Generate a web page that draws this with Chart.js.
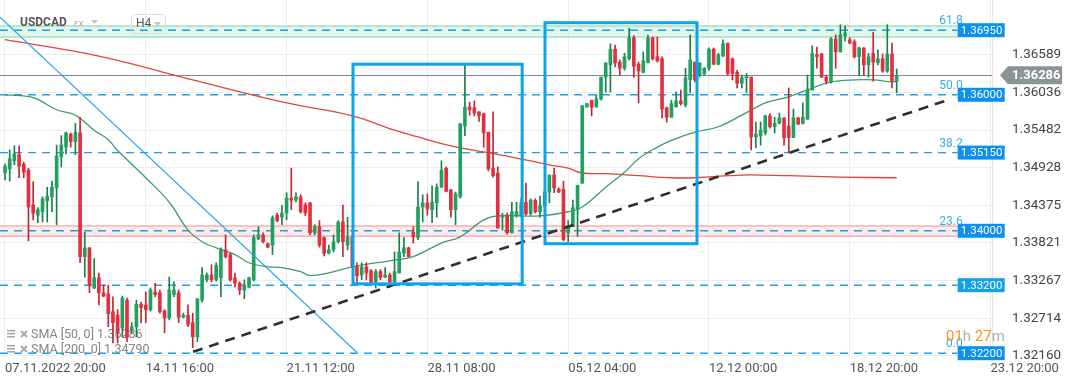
<!DOCTYPE html>
<html>
<head>
<meta charset="utf-8">
<script src="https://cdn.jsdelivr.net/npm/chart.js@4.4.0/dist/chart.umd.min.js"></script>
<style>
  html, body { margin: 0; padding: 0; background: #fff; }
  canvas { display: block; }
</style>
</head>
<body>
<canvas id="chart" width="1072" height="382"></canvas>
<script>
// USDCAD H4 candles, index 0 = 07.11.2022 20:00
const opens = [
  1.3485, 1.3491, 1.3503, 1.3512, 1.3498, 1.3489, 1.3438, 1.3423, 1.3428, 1.3444,
  1.3450, 1.3463, 1.3509, 1.3523, 1.3542, 1.3531, 1.3544, 1.3362, 1.3375, 1.3316,
  1.3331, 1.3309, 1.3307, 1.3281, 1.3276, 1.3257, 1.3298, 1.3254, 1.3259, 1.3292,
  1.3291, 1.3284, 1.3310, 1.3309, 1.3282, 1.3272, 1.3306, 1.3309, 1.3273, 1.3276,
  1.3265, 1.3244, 1.3298, 1.3328, 1.3335, 1.3328, 1.3331, 1.3372, 1.3365, 1.3331,
  1.3323, 1.3313, 1.3317, 1.3328, 1.3388, 1.3394, 1.3381, 1.3379, 1.3423, 1.3420,
  1.3426, 1.3448, 1.3445, 1.3450, 1.3438, 1.3441, 1.3397, 1.3406, 1.3390, 1.3367,
  1.3372, 1.3384, 1.3413, 1.3379, 1.3390, 1.3347, 1.3335, 1.3347, 1.3341, 1.3325,
  1.3340, 1.3332, 1.3335, 1.3325, 1.3338, 1.3367, 1.3375, 1.3398, 1.3390, 1.3435,
  1.3441, 1.3431, 1.3441, 1.3464, 1.3492, 1.3460, 1.3431, 1.3450, 1.3554, 1.3582,
  1.3581, 1.3575, 1.3572, 1.3545, 1.3492, 1.3485, 1.3420, 1.3423, 1.3397, 1.3422,
  1.3422, 1.3442, 1.3425, 1.3445, 1.3428, 1.3437, 1.3457, 1.3482, 1.3461, 1.3461,
  1.3397, 1.3406, 1.3432, 1.3470, 1.3582, 1.3592, 1.3582, 1.3594, 1.3626, 1.3644,
  1.3667, 1.3648, 1.3639, 1.3653, 1.3684, 1.3645, 1.3633, 1.3647, 1.3684, 1.3656,
  1.3653, 1.3581, 1.3567, 1.3582, 1.3591, 1.3585, 1.3622, 1.3648, 1.3629, 1.3631,
  1.3639, 1.3667, 1.3645, 1.3657, 1.3676, 1.3653, 1.3633, 1.3617, 1.3625, 1.3626,
  1.3538, 1.3540, 1.3544, 1.3569, 1.3553, 1.3558, 1.3566, 1.3554, 1.3537, 1.3566,
  1.3558, 1.3564, 1.3607, 1.3659, 1.3660, 1.3626, 1.3619, 1.3682, 1.3663, 1.3687,
  1.3681, 1.3678, 1.3656, 1.3669, 1.3644, 1.3661, 1.3647, 1.3653, 1.3635, 1.3660,
  1.3620
];
const highs = [
  1.3498, 1.3519, 1.3525, 1.3525, 1.3501, 1.3492, 1.3472, 1.3434, 1.3450, 1.3464,
  1.3473, 1.3526, 1.3540, 1.3545, 1.3544, 1.3558, 1.3567, 1.3398, 1.3375, 1.3359,
  1.3338, 1.3320, 1.3320, 1.3303, 1.3284, 1.3304, 1.3301, 1.3265, 1.3298, 1.3295,
  1.3310, 1.3316, 1.3323, 1.3313, 1.3284, 1.3332, 1.3325, 1.3313, 1.3279, 1.3291,
  1.3279, 1.3300, 1.3346, 1.3338, 1.3350, 1.3353, 1.3375, 1.3394, 1.3367, 1.3338,
  1.3325, 1.3328, 1.3332, 1.3394, 1.3406, 1.3397, 1.3382, 1.3422, 1.3426, 1.3437,
  1.3456, 1.3492, 1.3456, 1.3453, 1.3441, 1.3442, 1.3409, 1.3415, 1.3391, 1.3379,
  1.3394, 1.3415, 1.3438, 1.3420, 1.3394, 1.3353, 1.3353, 1.3353, 1.3343, 1.3343,
  1.3343, 1.3346, 1.3338, 1.3369, 1.3397, 1.3390, 1.3376, 1.3406, 1.3472, 1.3453,
  1.3454, 1.3466, 1.3469, 1.3503, 1.3494, 1.3461, 1.3457, 1.3558, 1.3644, 1.3589,
  1.3591, 1.3575, 1.3573, 1.3545, 1.3575, 1.3494, 1.3426, 1.3426, 1.3442, 1.3442,
  1.3448, 1.3470, 1.3447, 1.3447, 1.3451, 1.3460, 1.3482, 1.3492, 1.3463, 1.3473,
  1.3415, 1.3445, 1.3467, 1.3584, 1.3587, 1.3592, 1.3600, 1.3626, 1.3647, 1.3675,
  1.3673, 1.3651, 1.3661, 1.3698, 1.3687, 1.3648, 1.3663, 1.3688, 1.3685, 1.3685,
  1.3656, 1.3582, 1.3592, 1.3604, 1.3607, 1.3639, 1.3688, 1.3648, 1.3647, 1.3640,
  1.3669, 1.3669, 1.3661, 1.3681, 1.3676, 1.3654, 1.3636, 1.3629, 1.3631, 1.3626,
  1.3560, 1.3560, 1.3570, 1.3572, 1.3567, 1.3573, 1.3566, 1.3610, 1.3579, 1.3567,
  1.3588, 1.3629, 1.3672, 1.3670, 1.3661, 1.3629, 1.3684, 1.3688, 1.3703, 1.3701,
  1.3684, 1.3681, 1.3670, 1.3669, 1.3661, 1.3692, 1.3666, 1.3660, 1.3703, 1.3676,
  1.3638
];
const lows = [
  1.3475, 1.3473, 1.3497, 1.3478, 1.3478, 1.3385, 1.3416, 1.3412, 1.3413, 1.3413,
  1.3428, 1.3409, 1.3494, 1.3513, 1.3523, 1.3512, 1.3353, 1.3332, 1.3309, 1.3315,
  1.3291, 1.3303, 1.3259, 1.3235, 1.3235, 1.3244, 1.3237, 1.3250, 1.3244, 1.3265,
  1.3265, 1.3282, 1.3303, 1.3279, 1.3250, 1.3269, 1.3303, 1.3265, 1.3272, 1.3259,
  1.3228, 1.3237, 1.3295, 1.3325, 1.3325, 1.3326, 1.3303, 1.3360, 1.3326, 1.3317,
  1.3306, 1.3300, 1.3316, 1.3326, 1.3387, 1.3382, 1.3375, 1.3365, 1.3413, 1.3409,
  1.3416, 1.3431, 1.3442, 1.3426, 1.3422, 1.3394, 1.3394, 1.3376, 1.3363, 1.3366,
  1.3369, 1.3382, 1.3362, 1.3372, 1.3346, 1.3323, 1.3328, 1.3328, 1.3323, 1.3316,
  1.3328, 1.3331, 1.3317, 1.3323, 1.3338, 1.3362, 1.3362, 1.3382, 1.3387, 1.3413,
  1.3423, 1.3412, 1.3420, 1.3464, 1.3457, 1.3420, 1.3409, 1.3448, 1.3540, 1.3570,
  1.3569, 1.3561, 1.3523, 1.3488, 1.3479, 1.3404, 1.3401, 1.3395, 1.3397, 1.3420,
  1.3420, 1.3423, 1.3423, 1.3426, 1.3420, 1.3434, 1.3441, 1.3456, 1.3456, 1.3385,
  1.3384, 1.3406, 1.3392, 1.3470, 1.3582, 1.3569, 1.3582, 1.3592, 1.3604, 1.3604,
  1.3641, 1.3629, 1.3636, 1.3651, 1.3626, 1.3588, 1.3632, 1.3647, 1.3651, 1.3648,
  1.3566, 1.3560, 1.3567, 1.3582, 1.3585, 1.3582, 1.3603, 1.3619, 1.3626, 1.3629,
  1.3636, 1.3644, 1.3644, 1.3656, 1.3629, 1.3622, 1.3610, 1.3610, 1.3603, 1.3519,
  1.3522, 1.3526, 1.3541, 1.3551, 1.3544, 1.3557, 1.3526, 1.3515, 1.3537, 1.3556,
  1.3557, 1.3564, 1.3607, 1.3639, 1.3625, 1.3616, 1.3617, 1.3639, 1.3663, 1.3679,
  1.3675, 1.3654, 1.3628, 1.3628, 1.3626, 1.3620, 1.3644, 1.3633, 1.3633, 1.3610,
  1.3603
];
const closes = [
  1.3495, 1.3506, 1.3513, 1.3495, 1.3486, 1.3435, 1.3426, 1.3431, 1.3447, 1.3451,
  1.3464, 1.3510, 1.3526, 1.3544, 1.3531, 1.3545, 1.3362, 1.3375, 1.3319, 1.3331,
  1.3309, 1.3304, 1.3278, 1.3265, 1.3251, 1.3301, 1.3243, 1.3259, 1.3292, 1.3287,
  1.3284, 1.3313, 1.3306, 1.3281, 1.3272, 1.3313, 1.3313, 1.3273, 1.3276, 1.3262,
  1.3244, 1.3300, 1.3335, 1.3335, 1.3328, 1.3349, 1.3372, 1.3362, 1.3328, 1.3323,
  1.3313, 1.3320, 1.3331, 1.3390, 1.3394, 1.3384, 1.3376, 1.3419, 1.3415, 1.3426,
  1.3448, 1.3445, 1.3450, 1.3428, 1.3426, 1.3397, 1.3406, 1.3379, 1.3367, 1.3372,
  1.3384, 1.3413, 1.3384, 1.3391, 1.3347, 1.3334, 1.3347, 1.3338, 1.3325, 1.3340,
  1.3331, 1.3335, 1.3325, 1.3340, 1.3369, 1.3375, 1.3362, 1.3391, 1.3435, 1.3441,
  1.3432, 1.3442, 1.3464, 1.3489, 1.3458, 1.3431, 1.3454, 1.3557, 1.3582, 1.3578,
  1.3573, 1.3569, 1.3544, 1.3491, 1.3481, 1.3404, 1.3423, 1.3397, 1.3428, 1.3428,
  1.3441, 1.3425, 1.3445, 1.3428, 1.3437, 1.3457, 1.3482, 1.3463, 1.3457, 1.3387,
  1.3407, 1.3434, 1.3467, 1.3584, 1.3587, 1.3582, 1.3594, 1.3626, 1.3647, 1.3667,
  1.3647, 1.3639, 1.3656, 1.3684, 1.3642, 1.3635, 1.3650, 1.3684, 1.3653, 1.3650,
  1.3579, 1.3567, 1.3587, 1.3591, 1.3587, 1.3625, 1.3651, 1.3622, 1.3647, 1.3639,
  1.3667, 1.3645, 1.3659, 1.3675, 1.3631, 1.3631, 1.3617, 1.3625, 1.3628, 1.3538,
  1.3542, 1.3548, 1.3569, 1.3553, 1.3558, 1.3566, 1.3537, 1.3537, 1.3566, 1.3557,
  1.3567, 1.3607, 1.3661, 1.3656, 1.3626, 1.3620, 1.3682, 1.3663, 1.3688, 1.3691,
  1.3676, 1.3656, 1.3669, 1.3644, 1.3656, 1.3648, 1.3653, 1.3635, 1.3660, 1.3620,
  1.36286
];

// moving averages (candle index, price)
const sma50Idx = [0, 6, 11, 15, 19, 22, 24, 30, 35, 39, 42, 45, 49, 52, 56, 59, 63, 65, 69, 74,
  83, 87, 93, 97, 102, 105, 114, 120, 123, 128, 132, 135, 139, 142, 147, 152, 157, 162, 167, 172,
  176, 181, 185, 189, 190];
const sma50 = [1.3600, 1.3596, 1.3578, 1.3570, 1.3548, 1.3534, 1.3518, 1.3478, 1.3442, 1.3401,
  1.3384, 1.3375, 1.3365, 1.3353, 1.3347, 1.3346, 1.3340, 1.3334, 1.3338, 1.3347,
  1.3357, 1.3362, 1.3382, 1.3391, 1.3416, 1.3422, 1.3422, 1.3428, 1.3435, 1.3464,
  1.3486, 1.3506, 1.3523, 1.3533, 1.3545, 1.3553, 1.3570, 1.3588, 1.3597, 1.3610,
  1.3619, 1.3622, 1.3622, 1.3619, 1.3620];
const sma200Idx = [0, 20, 40, 60, 74, 83, 88, 95, 102, 109, 116, 120, 123, 128, 135, 142, 147, 157, 167, 178, 190];
const sma200 = [1.3681, 1.3657, 1.3622, 1.3588, 1.3569, 1.3548, 1.3538, 1.3525, 1.3516, 1.3507,
  1.3497, 1.3492, 1.3485, 1.3484, 1.3481, 1.3478, 1.3478, 1.3482, 1.3481, 1.3479, 1.3478];

const xTickIdx = [0, 30, 60, 90, 120, 150, 180, 210];
const xTickLabels = ['07.11.2022 20:00', '14.11 16:00', '21.11 12:00', '28.11 08:00',
  '05.12 04:00', '12.12 00:00', '18.12 20:00', '23.12 20:00'];
const yTicks = [1.36589, 1.36036, 1.35482, 1.34928, 1.34375, 1.33821, 1.33267, 1.32714, 1.32160];

// drawn levels and fib ratios
const levels = [1.3695, 1.3600, 1.3515, 1.3400, 1.3320, 1.3220];
const fibLabels = ['61.8', '50.0', '38.2', '23.6', '', '0.0'];
const lastPrice = 1.36286;

const FONT = "Roboto, 'Open Sans', Arial, sans-serif";
const UP = '#22a060', DOWN = '#e3303e';
const UP_WICK = '#17804b', DOWN_WICK = '#c52531';

const bodyPts = opens.map((o, i) => ({ x: i, y: [o, closes[i]] }));
const wickPts = opens.map((o, i) => ({ x: i, y: [lows[i], highs[i]] }));
const bodyCols = opens.map((o, i) => closes[i] >= o ? UP : DOWN);
const wickCols = opens.map((o, i) => closes[i] >= o ? UP_WICK : DOWN_WICK);

const overlay = {
  id: 'overlay',
  beforeDatasetsDraw(chart) {
    const { ctx, chartArea: a, scales: { x, y } } = chart;
    const xEnd = x.getPixelForValue(203);
    ctx.save();
    ctx.beginPath();
    ctx.rect(a.left, a.top, a.right - a.left, a.bottom - a.top);
    ctx.clip();

    // zones
    const zones = [
      { lo: 1.3685, hi: 1.3701, fill: 'rgba(200,240,222,0.55)', edge: '#9fe3c6' },
      { lo: 1.3392, hi: 1.3407, fill: 'rgba(252,222,222,0.6)', edge: '#f4b4b4' }
    ];
    zones.forEach(z => {
      const y1 = y.getPixelForValue(z.hi), y2 = y.getPixelForValue(z.lo);
      ctx.fillStyle = z.fill;
      ctx.fillRect(a.left, y1, xEnd - a.left, y2 - y1);
      ctx.strokeStyle = z.edge;
      ctx.lineWidth = 1.5;
      ctx.beginPath();
      ctx.moveTo(a.left, y1); ctx.lineTo(xEnd, y1);
      ctx.moveTo(a.left, y2); ctx.lineTo(xEnd, y2);
      ctx.stroke();
    });

    // current price line
    const py = Math.round(y.getPixelForValue(lastPrice)) + 0.5;
    ctx.strokeStyle = '#7f898c';
    ctx.lineWidth = 1;
    ctx.beginPath(); ctx.moveTo(a.left, py); ctx.lineTo(a.right, py); ctx.stroke();

    // dashed levels
    ctx.strokeStyle = '#1e9fe2';
    ctx.lineWidth = 1.4;
    ctx.setLineDash([8, 6]);
    levels.forEach(v => {
      const ly = y.getPixelForValue(v);
      ctx.beginPath(); ctx.moveTo(a.left, ly); ctx.lineTo(xEnd, ly); ctx.stroke();
    });
    ctx.setLineDash([]);

    // fib ratio labels
    ctx.font = '12px ' + FONT;
    ctx.fillStyle = '#3aaee8';
    ctx.textAlign = 'right';
    ctx.textBaseline = 'middle';
    levels.forEach((v, k) => {
      if (!fibLabels[k]) return;
      ctx.fillText(fibLabels[k], xEnd + 5, y.getPixelForValue(v) - 9);
    });

    // SMA legend (under candles)
    ctx.textAlign = 'left';
    ctx.font = '12.5px ' + FONT;
    [['SMA [50, 0] 1.36286', 335], ['SMA [200, 0] 1.34790', 350]].forEach(([t, ly]) => {
      ctx.fillStyle = '#a8a8a8';
      for (let k = 0; k < 3; k++) ctx.fillRect(7, ly - 5 + k * 3, 8, 1.5);
      ctx.strokeStyle = '#a8a8a8'; ctx.lineWidth = 2;
      ctx.beginPath();
      ctx.moveTo(21, ly - 4); ctx.lineTo(27, ly + 2);
      ctx.moveTo(27, ly - 4); ctx.lineTo(21, ly + 2);
      ctx.stroke();
      ctx.fillStyle = '#858585';
      ctx.fillText(t, 31, ly);
    });
    ctx.restore();
  },
  afterDatasetsDraw(chart) {
    const { ctx, chartArea: a, scales: { x, y } } = chart;
    ctx.save();
    ctx.beginPath();
    ctx.rect(a.left, a.top, a.right - a.left, a.bottom - a.top);
    ctx.clip();

    // light blue falling trendline
    ctx.strokeStyle = '#2aa7e4';
    ctx.lineWidth = 1.2;
    ctx.beginPath();
    ctx.moveTo(x.getPixelForValue(-1.07), y.getPixelForValue(1.3714));
    ctx.lineTo(x.getPixelForValue(75), y.getPixelForValue(1.3221));
    ctx.stroke();

    // black dashed rising trendline
    ctx.strokeStyle = '#2f2f2f';
    ctx.lineWidth = 2.6;
    ctx.setLineDash([10, 7]);
    ctx.beginPath();
    ctx.moveTo(x.getPixelForValue(40.06), y.getPixelForValue(1.3222));
    ctx.lineTo(x.getPixelForValue(200.3), y.getPixelForValue(1.3591));
    ctx.stroke();
    ctx.setLineDash([]);

    // consolidation boxes
    ctx.strokeStyle = '#0aa3ee';
    ctx.lineWidth = 3;
    [[74.15, 110.2, 1.3645, 1.3322], [115.06, 147.45, 1.3706, 1.3381]].forEach(([i1, i2, p1, p2]) => {
      const x1 = x.getPixelForValue(i1), x2 = x.getPixelForValue(i2);
      const y1 = y.getPixelForValue(p1), y2 = y.getPixelForValue(p2);
      ctx.strokeRect(x1, y1, x2 - x1, y2 - y1);
    });
    ctx.restore();

    // header
    ctx.save();
    ctx.textBaseline = 'middle';
    ctx.font = 'bold 12px ' + FONT;
    ctx.fillStyle = '#555';
    ctx.fillText('USDCAD', 20, 23);
    ctx.font = '8px ' + FONT;
    ctx.fillStyle = '#9a9a9a';
    ctx.fillText('FX', 74, 24);
    ctx.fillStyle = '#c4c4c4';
    ctx.beginPath(); ctx.moveTo(91, 20); ctx.lineTo(98, 20); ctx.lineTo(94.5, 24); ctx.closePath(); ctx.fill();
    ctx.strokeStyle = '#dedede';
    ctx.lineWidth = 1;
    ctx.beginPath();
    ctx.roundRect(131.5, 14.5, 34, 19, 3);
    ctx.stroke();
    ctx.font = '12px ' + FONT;
    ctx.fillStyle = '#555';
    ctx.fillText('H4', 136, 24);
    ctx.fillStyle = '#c4c4c4';
    ctx.beginPath(); ctx.moveTo(154, 22); ctx.lineTo(161, 22); ctx.lineTo(157.5, 26); ctx.closePath(); ctx.fill();
    ctx.restore();
  },
  afterDraw(chart) {
    const { ctx, chartArea: a, scales: { x, y } } = chart;
    const xEnd = x.getPixelForValue(203);
    ctx.save();
    ctx.textBaseline = 'middle';
    ctx.textAlign = 'left';

    // level price boxes
    ctx.font = '11.5px ' + FONT;
    levels.forEach(v => {
      const ly = y.getPixelForValue(v);
      ctx.fillStyle = v === 1.332 ? '#12a2ea' : '#0b8ff0';
      ctx.fillRect(xEnd, ly - 7, 47, 14);
      ctx.fillStyle = '#fff';
      ctx.fillText(v.toFixed(5), xEnd + 3, ly + 0.5);
    });

    // current price tag
    const py = y.getPixelForValue(lastPrice);
    const tx = a.right + 8;
    ctx.fillStyle = '#8a9396';
    ctx.beginPath();
    ctx.moveTo(tx, py);
    ctx.lineTo(tx + 8, py - 9);
    ctx.lineTo(tx + 62, py - 9);
    ctx.lineTo(tx + 62, py + 9);
    ctx.lineTo(tx + 8, py + 9);
    ctx.closePath();
    ctx.fill();
    ctx.font = 'bold 13px ' + FONT;
    ctx.fillStyle = '#fff';
    ctx.fillText(lastPrice.toFixed(5), tx + 12, py + 0.5);

    // candle timer
    ctx.font = '15px ' + FONT;
    let cx = 946;
    [['01', '#f7941d'], ['h ', '#b0b0b0'], ['27', '#f7941d'], ['m', '#b0b0b0']].forEach(([t, c]) => {
      ctx.fillStyle = c;
      ctx.fillText(t, cx, 337);
      cx += ctx.measureText(t).width;
    });
    ctx.restore();
  }
};

new Chart(document.getElementById('chart'), {
  type: 'bar',
  data: {
    datasets: [
      {
        type: 'line',
        data: sma50Idx.map((v, k) => ({ x: v, y: sma50[k] })),
        borderColor: '#3d9c6c',
        borderWidth: 1.3,
        pointRadius: 0,
        tension: 0.4,
        order: 3
      },
      {
        type: 'line',
        data: sma200Idx.map((v, k) => ({ x: v, y: sma200[k] })),
        borderColor: '#e0443e',
        borderWidth: 1.3,
        pointRadius: 0,
        tension: 0.4,
        order: 3
      },
      {
        data: wickPts,
        backgroundColor: wickCols,
        barThickness: 1,
        grouped: false,
        order: 2
      },
      {
        data: bodyPts,
        backgroundColor: bodyCols,
        barThickness: 3,
        minBarLength: 1,
        grouped: false,
        order: 1
      }
    ]
  },
  options: {
    responsive: false,
    animation: false,
    devicePixelRatio: 1,
    layout: { padding: 0 },
    plugins: { legend: { display: false }, tooltip: { enabled: false } },
    scales: {
      x: {
        type: 'linear',
        min: -1.065,
        max: 210.31,
        offset: false,
        grid: { color: '#ededed', drawTicks: false, offset: false },
        border: { display: false },
        afterBuildTicks: s => { s.ticks = xTickIdx.map(v => ({ value: v })); },
        afterFit: s => { s.height = 24; s.paddingLeft = 0; s.paddingRight = 0; },
        ticks: {
          autoSkip: false,
          maxRotation: 0,
          align: 'start',
          padding: 3,
          color: '#555',
          font: { family: FONT, size: 13 },
          callback: v => xTickLabels[xTickIdx.indexOf(v)]
        }
      },
      y: {
        position: 'right',
        min: 1.321294,
        max: 1.373941,
        grid: { color: '#ededed', drawTicks: false },
        border: { color: '#e6e6e6' },
        afterBuildTicks: s => { s.ticks = yTicks.map(v => ({ value: v })); },
        afterFit: s => { s.width = 80; s.paddingTop = 0; s.paddingBottom = 0; },
        ticks: {
          padding: 20,
          color: '#444',
          font: { family: FONT, size: 13.5 },
          callback: v => v.toFixed(5)
        }
      }
    }
  },
  plugins: [overlay]
});
</script>
</body>
</html>
